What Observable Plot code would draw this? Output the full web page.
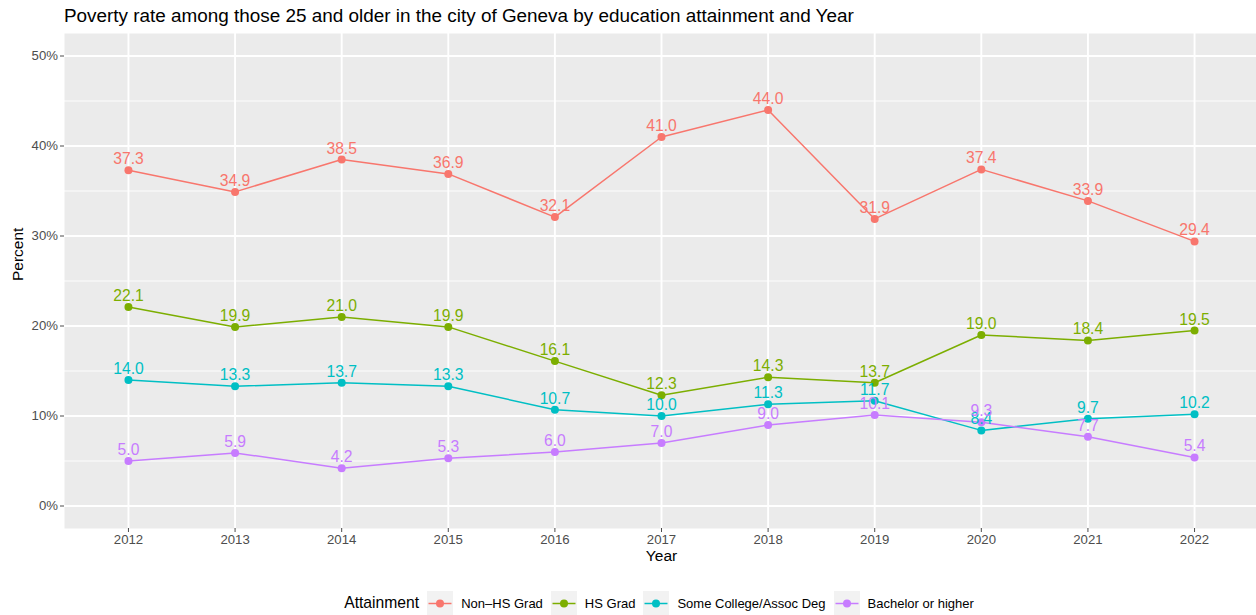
<!DOCTYPE html>
<html>
<head>
<meta charset="utf-8">
<script src="https://cdn.jsdelivr.net/npm/d3@7"></script>
<script src="https://cdn.jsdelivr.net/npm/@observablehq/plot@0.6"></script>
<style>
  body { margin: 0; background: #fff; font-family: "Liberation Sans", Arial, sans-serif; width: 1256px; overflow: hidden; }
  #title { height: 33px; line-height: 31px; font-size: 18.9px; color: #000; padding-left: 64px; white-space: nowrap; }
  #chart svg { overflow: visible; display: block; }
  #legend { height: 30px; display: flex; align-items: center; justify-content: center; padding-left: 70px; font-size: 13px; color: #000; }
  #legend .ttl { font-size: 15.7px; margin-right: 8px; }
  #legend .item { display: flex; align-items: center; margin-right: 8px; }
  #legend .item span { margin-left: 8px; }
  #legend svg { display: block; }
</style>
</head>
<body>
<div id="title">Poverty rate among those 25 and older in the city of Geneva by education attainment and Year</div>
<div id="chart"></div>
<div id="legend"></div>
<script>
const years = [2012, 2013, 2014, 2015, 2016, 2017, 2018, 2019, 2020, 2021, 2022];
const seriesNames = ["Non–HS Grad", "HS Grad", "Some College/Assoc Deg", "Bachelor or higher"];
const seriesColors = ["#F8766D", "#7CAE00", "#00BFC4", "#C77CFF"];
const nonHS = [37.3, 34.9, 38.5, 36.9, 32.1, 41.0, 44.0, 31.9, 37.4, 33.9, 29.4];
const hsGrad = [22.1, 19.9, 21.0, 19.9, 16.1, 12.3, 14.3, 13.7, 19.0, 18.4, 19.5];
const someCollege = [14.0, 13.3, 13.7, 13.3, 10.7, 10.0, 11.3, 11.7, 8.4, 9.7, 10.2];
const bachelor = [5.0, 5.9, 4.2, 5.3, 6.0, 7.0, 9.0, 10.1, 9.3, 7.7, 5.4];
const yTicks = [0, 10, 20, 30, 40, 50];
const yMinor = [5, 15, 25, 35, 45];

const valuesBySeries = [nonHS, hsGrad, someCollege, bachelor];
const data = [];
seriesNames.forEach((s, i) => years.forEach((y, j) => data.push({series: s, year: y, value: valuesBySeries[i][j]})));

const font = "'Liberation Sans', Arial, sans-serif";

const chart = Plot.plot({
  width: 1256,
  height: 555,
  marginTop: 0,
  marginBottom: 60,
  marginLeft: 64,
  marginRight: -2,
  style: { fontFamily: font, fontSize: "13.2px", color: "#4D4D4D", background: "transparent", overflow: "visible" },
  x: { type: "linear", domain: [2011.4, 2022.6] },
  y: { domain: [-2.5, 52.5] },
  color: { domain: seriesNames, range: seriesColors },
  marks: [
    Plot.frame({ fill: "#EBEBEB", stroke: null }),
    Plot.gridY(yMinor, { stroke: "#fff", strokeOpacity: 1, strokeWidth: 0.95 }),
    Plot.gridY(yTicks, { stroke: "#fff", strokeOpacity: 1, strokeWidth: 1.9 }),
    Plot.gridX(years, { stroke: "#fff", strokeOpacity: 1, strokeWidth: 1.9 }),
    Plot.axisY(yTicks, { tickSize: 4, tickPadding: 2.5, tickFormat: d => d + "%", color: "#4D4D4D", fontSize: 13.2, label: null }),
    Plot.axisX(years, { tickSize: 4, tickPadding: 2.5, tickFormat: d => String(d), color: "#4D4D4D", fontSize: 13.2, label: null }),
    Plot.text(["Percent"], { frameAnchor: "left", dx: -46, rotate: -90, fontSize: 15.5, fill: "#000" }),
    Plot.text(["Year"], { frameAnchor: "bottom", dy: 32, fontSize: 15.5, fill: "#000" }),
    Plot.line(data, { x: "year", y: "value", z: "series", stroke: "series", strokeWidth: 1.5 }),
    Plot.dot(data, { x: "year", y: "value", fill: "series", r: 4, stroke: null }),
    Plot.text(data, { x: "year", y: "value", text: d => d.value.toFixed(1), fill: "series", dy: -11, fontSize: 15.7 })
  ]
});
document.getElementById("chart").appendChild(chart);

const legend = document.getElementById("legend");
const ttl = document.createElement("div");
ttl.className = "ttl";
ttl.textContent = "Attainment";
legend.appendChild(ttl);
seriesNames.forEach((s, i) => {
  const item = document.createElement("div");
  item.className = "item";
  item.innerHTML = `<svg width="26" height="25"><rect width="26" height="25" fill="#F2F2F2"></rect><line x1="1.5" x2="24.5" y1="12.5" y2="12.5" stroke="${seriesColors[i]}" stroke-width="1.5"></line><circle cx="13" cy="12.5" r="4" fill="${seriesColors[i]}"></circle></svg><span>${s}</span>`;
  legend.appendChild(item);
});
</script>
</body>
</html>
